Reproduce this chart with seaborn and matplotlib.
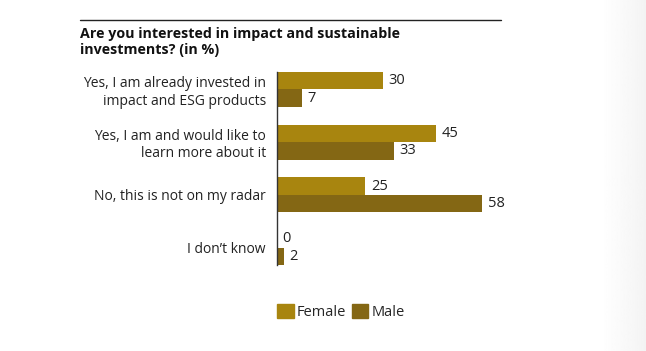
import numpy as np
import pandas as pd
import matplotlib
matplotlib.use("Agg")
from matplotlib import pyplot as plt
from matplotlib.lines import Line2D
import seaborn as sns

# data
answers = ["Yes, I am already invested in\nimpact and ESG products",
           "Yes, I am and would like to\nlearn more about it",
           "No, this is not on my radar",
           "I don\u2019t know"]
female = [30, 45, 25, 0]
male = [7, 33, 58, 2]
groups = ["Female", "Male"]
colors = ["#A8850F", "#846714"]

df = pd.DataFrame({
    "answer": answers * 2,
    "value": female + male,
    "group": ["Female"] * 4 + ["Male"] * 4,
})

sns.set_style("white")
plt.rcParams['font.family'] = ['Open Sans', 'DejaVu Sans']

fig = plt.figure(figsize=(6.46, 3.51), dpi=100)
ax = fig.add_axes([277 / 646, 1 - 265 / 351, 223 / 646, 193 / 351])

sns.barplot(data=df, y="answer", x="value", hue="group", order=answers,
            hue_order=groups, palette=colors, width=0.66, orient="h",
            saturation=1, linewidth=0, ax=ax, legend=False)

for c in ax.containers:
    ax.bar_label(c, fmt="%d", padding=4, fontsize=10.5, color="#222222")

ax.set_xlim(0, 63)
ax.set_ylim(3.33, -0.33)
ax.set_xlabel("")
ax.set_ylabel("")
ax.set_xticks([])
ax.tick_params(axis="y", length=0, pad=8, labelsize=10, labelcolor="#222222")
for lab in ax.get_yticklabels():
    lab.set_horizontalalignment("right")
for s in ["top", "right", "bottom"]:
    ax.spines[s].set_visible(False)
ax.spines["left"].set_color("#333333")
ax.spines["left"].set_linewidth(1)

# title and rule
fig.add_artist(Line2D([80 / 646, 501 / 646], [1 - 20 / 351] * 2,
                      color="#222222", linewidth=1))
fig.text(80 / 646, 1 - 27 / 351,
         "Are you interested in impact and sustainable\ninvestments? (in %)",
         fontsize=10.3, fontweight="bold", va="top", ha="left",
         color="#111111", linespacing=1.2)

# legend
handles = [plt.Rectangle((0, 0), 1, 1, color=c) for c in colors]
fig.legend(handles, groups, loc="upper left",
           bbox_to_anchor=(271 / 646, 1 - 298 / 351), ncol=2, frameon=False,
           fontsize=10.5, handlelength=1.15, handleheight=1.15,
           handletextpad=0.2, columnspacing=0.4, borderaxespad=0)

# light gray band on the right
bg = fig.add_axes([600 / 646, 0, 46 / 646, 1], zorder=-1)
bg.imshow(np.linspace(1.0, 0.955, 50).reshape(1, -1), cmap="gray",
          vmin=0, vmax=1, aspect="auto")
bg.axis("off")

fig.savefig("out.png", dpi=100)
